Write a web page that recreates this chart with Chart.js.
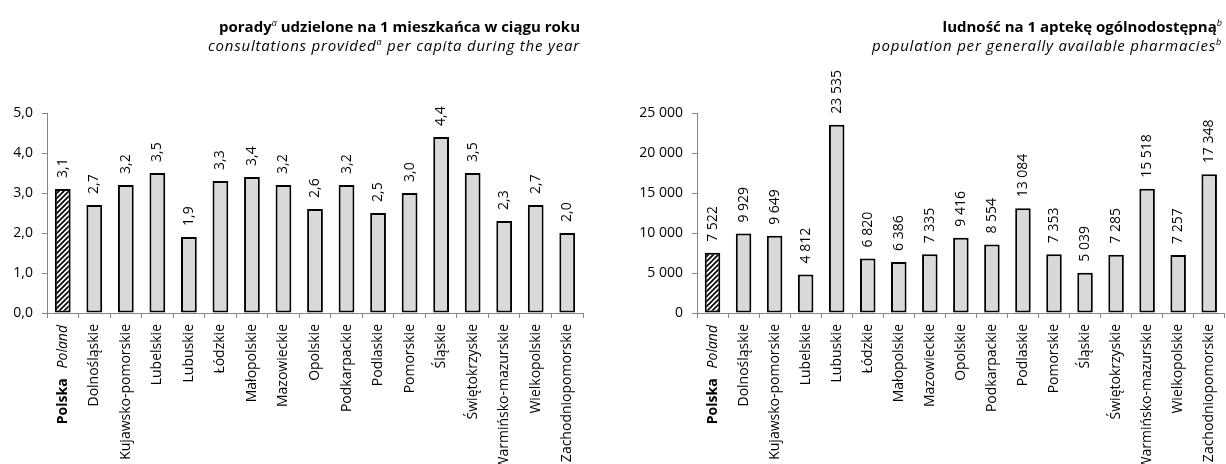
<!DOCTYPE html>
<html lang="pl">

<head>
    <meta charset="UTF-8" />
    <title>Porady i apteki wg województw</title>
    <script src="https://cdn.jsdelivr.net/npm/chart.js"></script>
    <style>
        html,
        body {
            margin: 0;
            padding: 0;
            width: 1226px;
            height: 464px;
            overflow: hidden;
            background: #fff;
            font-family: "Open Sans", Lato, sans-serif;
        }

        .panel {
            position: absolute;
            top: 0;
            height: 464px;
        }

        #consultations-box {
            left: 0;
            width: 613px;
        }

        #pharmacies-box {
            left: 613px;
            width: 619px;
        }

        .title {
            position: absolute;
            top: 17px;
            text-align: right;
            white-space: nowrap;
            color: #000;
            font-size: 15px;
            line-height: 19px;
        }

        .title .pl {
            font-weight: bold;
        }

        .title .en {
            font-style: italic;
            letter-spacing: 0.8px;
        }

        .title sup {
            font-size: 9px;
            font-style: italic;
            font-weight: normal;
            line-height: 0;
        }
    </style>
</head>

<body>
    <div class="panel" id="consultations-box"><canvas id="consultations"></canvas></div>
    <div class="panel" id="pharmacies-box"><canvas id="pharmacies"></canvas></div>

    <div class="title" style="right: 646px;">
        <div class="pl">porady<sup>a</sup> udzielone na 1 mieszkańca w ciągu roku</div>
        <div class="en">consultations provided<sup>a</sup> per capita during the year</div>
    </div>
    <div class="title" style="right: 4px;">
        <div class="pl">ludność na 1 aptekę ogólnodostępną<sup>b</sup></div>
        <div class="en">population per generally available pharmacies<sup>b</sup></div>
    </div>

    <script>
        const regions = ['Polska', 'Dolnośląskie', 'Kujawsko-pomorskie', 'Lubelskie', 'Lubuskie', 'Łódzkie',
            'Małopolskie', 'Mazowieckie', 'Opolskie', 'Podkarpackie', 'Podlaskie', 'Pomorskie', 'Śląskie',
            'Świętokrzyskie', 'Warmińsko-mazurskie', 'Wielkopolskie', 'Zachodniopomorskie'];
        const countryEn = 'Poland';

        const consultationsPerCapita = [3.1, 2.7, 3.2, 3.5, 1.9, 3.3, 3.4, 3.2, 2.6, 3.2, 2.5, 3.0, 4.4, 3.5, 2.3, 2.7, 2.0];
        const populationPerPharmacy = [7522, 9929, 9649, 4812, 23535, 6820, 6386, 7335, 9416, 8554, 13084, 7353, 5039, 7285, 15518, 7257, 17348];

        const consultationsTicks = [0, 1, 2, 3, 4, 5];
        const pharmacyTicks = [0, 5000, 10000, 15000, 20000, 25000];

        const FONT = '"Open Sans"';
        const AXIS_GREY = '#868686';

        const fmtDecimal = v => Number(v).toFixed(1).replace('.', ',');
        const fmtThousands = v => String(Math.round(v)).replace(/\B(?=(\d{3})+(?!\d))/g, ' ');

        function hatchPattern() {
            const c = document.createElement('canvas');
            c.width = 5;
            c.height = 5;
            const g = c.getContext('2d');
            g.fillStyle = '#fff';
            g.fillRect(0, 0, 5, 5);
            g.strokeStyle = '#000';
            g.lineWidth = 1.7;
            g.beginPath();
            g.moveTo(-1, 6); g.lineTo(6, -1);
            g.moveTo(-3.5, 3.5); g.lineTo(3.5, -3.5);
            g.moveTo(1.5, 8.5); g.lineTo(8.5, 1.5);
            g.stroke();
            return g.createPattern(c, 'repeat');
        }

        // rotated value labels above each bar
        function valueLabels(format) {
            return {
                id: 'valueLabels',
                afterDatasetsDraw(chart) {
                    const ctx = chart.ctx;
                    const meta = chart.getDatasetMeta(0);
                    const data = chart.data.datasets[0].data;
                    ctx.save();
                    ctx.font = '14px ' + FONT;
                    ctx.fillStyle = '#000';
                    ctx.textAlign = 'left';
                    ctx.textBaseline = 'middle';
                    meta.data.forEach((bar, i) => {
                        ctx.save();
                        ctx.translate(bar.x, bar.y - 11);
                        ctx.rotate(-Math.PI / 2);
                        ctx.fillText(format(data[i]), 0, 0);
                        ctx.restore();
                    });
                    ctx.restore();
                }
            };
        }

        // "Polska  Poland" label: bold + italic in one tick
        const countryLabel = {
            id: 'countryLabel',
            afterDraw(chart) {
                const x = chart.scales.x;
                const ctx = chart.ctx;
                const px = x.getPixelForValue(0);
                ctx.save();
                ctx.translate(px, x.top + 5 + 7);
                ctx.rotate(-Math.PI / 2);
                ctx.textAlign = 'right';
                ctx.textBaseline = 'middle';
                ctx.fillStyle = '#000';
                ctx.font = 'italic 14px ' + FONT;
                ctx.fillText(countryEn, 0, 0);
                const w = ctx.measureText(countryEn).width;
                ctx.font = 'bold 14px ' + FONT;
                ctx.fillText(regions[0], -(w + 10), 0);
                ctx.restore();
            }
        };

        function makeChart(id, values, ticks, format, axisWidth, rightPad) {
            const colors = values.map((v, i) => i === 0 ? hatchPattern() : '#d9d9d9');
            return new Chart(document.getElementById(id), {
                type: 'bar',
                data: {
                    labels: regions,
                    datasets: [{
                        data: values,
                        backgroundColor: colors,
                        borderColor: '#000',
                        borderWidth: 2,
                        borderSkipped: false,
                        categoryPercentage: 1,
                        barPercentage: 0.5
                    }]
                },
                options: {
                    responsive: true,
                    maintainAspectRatio: false,
                    animation: false,
                    layout: { padding: { top: 113, right: rightPad, left: 0, bottom: 0 } },
                    plugins: {
                        legend: { display: false },
                        tooltip: { enabled: false }
                    },
                    scales: {
                        x: {
                            offset: true,
                            grid: { drawOnChartArea: false, drawTicks: true, tickLength: 5, color: AXIS_GREY, offset: true },
                            border: { color: AXIS_GREY, width: 1 },
                            ticks: {
                                autoSkip: false,
                                minRotation: 90,
                                maxRotation: 90,
                                padding: 6,
                                color: '#000',
                                font: { family: FONT, size: 14 },
                                callback: (v, i) => i === 0 ? '' : regions[i]
                            },
                            afterFit: s => { s.height = 151; }
                        },
                        y: {
                            min: ticks[0],
                            max: ticks[ticks.length - 1],
                            afterBuildTicks: s => { s.ticks = ticks.map(v => ({ value: v })); },
                            grid: { drawOnChartArea: false, drawTicks: true, tickLength: 5, color: AXIS_GREY },
                            border: { color: AXIS_GREY, width: 1 },
                            ticks: {
                                padding: 9,
                                color: '#000',
                                font: { family: FONT, size: 14 },
                                callback: v => format(v)
                            },
                            afterFit: s => { s.width = axisWidth; }
                        }
                    }
                },
                plugins: [valueLabels(format), countryLabel]
            });
        }

        makeChart('consultations', consultationsPerCapita, consultationsTicks, fmtDecimal, 47, 30);
        makeChart('pharmacies', populationPerPharmacy, pharmacyTicks, fmtThousands, 84, 0);
    </script>
</body>

</html>
